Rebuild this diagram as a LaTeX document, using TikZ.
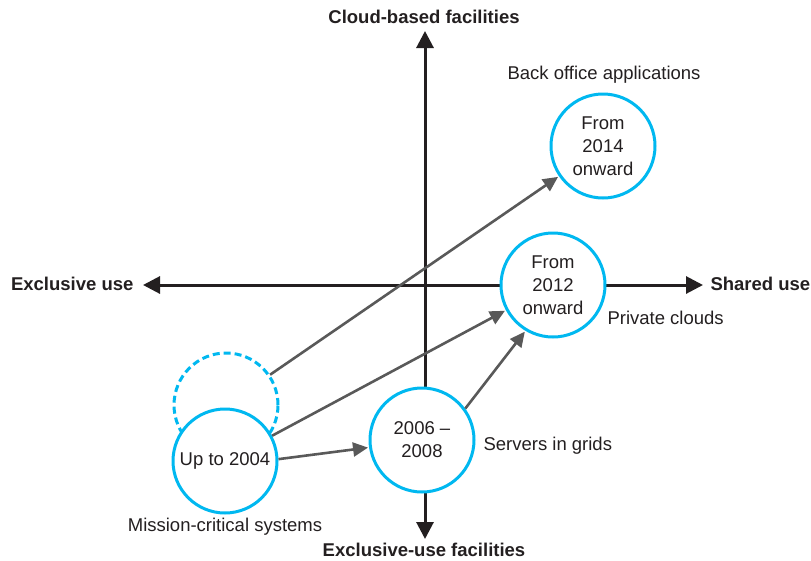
\documentclass[tikz,border=0pt]{standalone}
\usepackage{fontspec}
\setmainfont{Liberation Sans}
\usetikzlibrary{arrows.meta}
\definecolor{ringblue}{HTML}{00B8F0}
\definecolor{axisblack}{HTML}{231F20}
\definecolor{arrowgray}{HTML}{595959}
\begin{document}
\begin{tikzpicture}[x=1pt,y=-1pt,
  every node/.style={font=\fontsize{18.5}{23}\selectfont, text=axisblack},
  axislabel/.style={font=\fontsize{18.5}{23}\selectfont\bfseries},
  axisline/.style={line width=3pt, draw=axisblack, {Triangle[length=17pt,width=17pt]}-{Triangle[length=17pt,width=17pt]}},
  era/.style={circle, draw=ringblue, line width=3pt, fill=white, minimum size=104pt, inner sep=0pt, align=center},
  ghost/.style={era, dashed, dash pattern=on 7pt off 4pt},
  move/.style={line width=2.6pt, draw=arrowgray, -{Triangle[length=15pt,width=14pt]}, shorten >=1pt}]
\useasboundingbox (0,0) rectangle (811,560);

% axes
\coordinate (west) at (143,285);
\coordinate (east) at (703,285);
\coordinate (north) at (425,31);
\coordinate (south) at (425,539);
\draw[axisline] (west) -- (east);
\draw[axisline] (south) -- (north);

\node[axislabel, anchor=east] (lblwest) at (137,284) {Exclusive use};
\node[axislabel, anchor=west] (lbleast) at (707,284) {Shared use};
\node[axislabel] (lblnorth) at (424,17) {Cloud-based facilities};
\node[axislabel] (lblsouth) at (424,550) {Exclusive-use facilities};

% stages
\node[ghost] (ghost) at (226,405) {};
\node[era] (c04) at (225,461) {Up to 2004};
\node[era] (c06) at (422,440) {2006 --\\2008};
\node[era] (c12) at (553,285) {From\\2012\\onward};
\node[era] (c14) at (603,146) {From\\2014\\onward};

% captions
\node (t14) at (604,75) {Back office applications};
\node[anchor=west] (t12) at (604,318) {Private clouds};
\node[anchor=west] (t06) at (480,446) {Servers in grids};
\node (t04) at (225,527) {Mission-critical systems};

% transitions
\draw[move] (ghost) -- (c14);
\draw[move] (c04) -- (c12);
\draw[move] (c04.2) -- (c06.188);
\draw[move] (c06.36) -- (c12.239);
\end{tikzpicture}
\end{document}
